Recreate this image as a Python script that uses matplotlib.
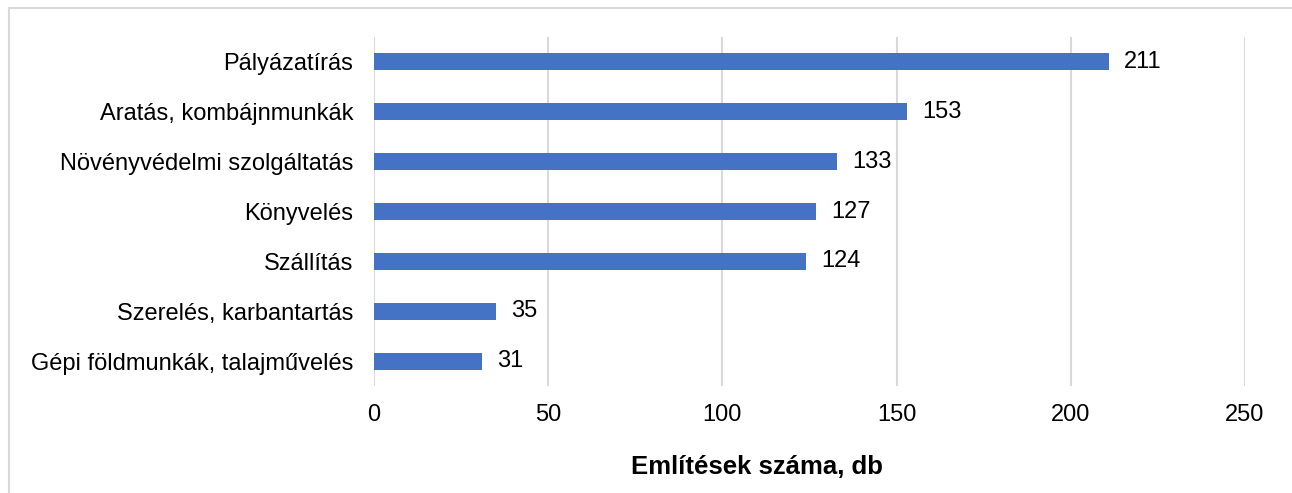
import matplotlib.pyplot as plt
from matplotlib.lines import Line2D

categories = ['Pályázatírás', 'Aratás, kombájnmunkák', 'Növényvédelmi szolgáltatás',
              'Könyvelés', 'Szállítás', 'Szerelés, karbantartás',
              'Gépi földmunkák, talajművelés']
counts = [211, 153, 133, 127, 124, 35, 31]
xticks = [0, 50, 100, 150, 200, 250]

plt.rcParams['font.family'] = ['Liberation Sans', 'DejaVu Sans']
fig = plt.figure(figsize=(12.92, 4.93), dpi=100)
ax = fig.add_axes([374 / 1292, 1 - 386 / 493, 871 / 1292, 349 / 493])

ypos = list(range(len(categories)))
ax.barh(ypos, counts, height=0.34, color='#4472C4', zorder=3)
for y, v in zip(ypos, counts):
    ax.text(v + 4.3, y, str(v), va='center', ha='left', fontsize=17, color='black')

ax.set_ylim(len(categories) - 0.5, -0.5)
ax.set_xlim(0, 250)
ax.set_yticks(ypos)
ax.set_yticklabels(categories, fontsize=17)
ax.set_xticks(xticks)
ax.set_xticklabels([str(t) for t in xticks], fontsize=17)
ax.tick_params(axis='both', length=0)
ax.tick_params(axis='y', pad=15)
ax.tick_params(axis='x', pad=13)
ax.grid(axis='x', color='#d9d9d9', linewidth=1.5, zorder=0)
for s in ax.spines.values():
    s.set_visible(False)
ax.set_xlabel('Említések száma, db', fontsize=18.5, fontweight='bold')
ax.xaxis.set_label_coords((757 - 374) / 871, -(467 - 386) / 349)
ax.xaxis.label.set_va('center')

# outer chart border (top and left visible)
fig.add_artist(Line2D([9 / 1292, 1.0], [1 - 8 / 493] * 2, color='#d9d9d9', lw=1.5))
fig.add_artist(Line2D([9 / 1292] * 2, [0, 1 - 8 / 493], color='#d9d9d9', lw=1.5))

plt.savefig('out.png', dpi=100)
plt.close()
